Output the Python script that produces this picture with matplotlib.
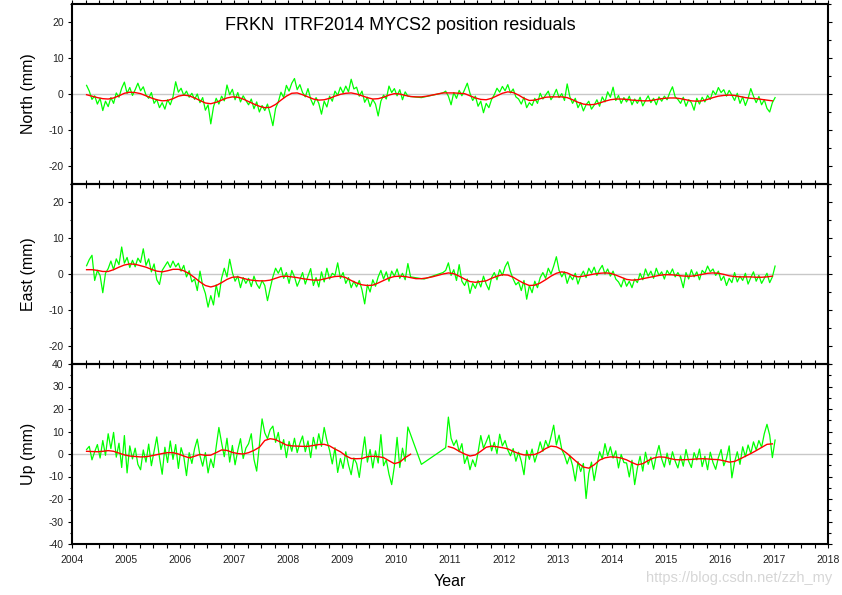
import numpy as np
import matplotlib
matplotlib.use("Agg")
import matplotlib.pyplot as plt
from matplotlib.ticker import MultipleLocator

plt.rcParams['font.family'] = ['Liberation Sans', 'DejaVu Sans']
plt.rcParams['axes.unicode_minus'] = False

# ---------------- data ----------------
title = "FRKN  ITRF2014 MYCS2 position residuals"
panel_labels = ["North (mm)", "East (mm)", "Up (mm)"]
x_label = "Year"
watermark = "https://blog.csdn.net/zzh_my"
year_ticks = list(range(2004, 2019))

# sampling of the series (decimal year)
green_t0 = 2004.27
green_step = 0.05
red_t0 = 2004.27
red_step = 0.10

north_green = [
    2.4, 0.8, -1.5, -0.5, -2.8, -1.2, -4.6, -2.0, -3.5, -1.0, -2.6, 0.3, -0.9, 1.6, 3.3, 0.2, 1.8, -0.4, 1.2, 3.0,
    0.9, 2.0, -0.3, -1.2, 0.4, -2.6, -1.5, -3.8, -2.4, -4.2, -1.6, -3.0, -0.8, 3.4, 0.5, 1.6, -0.4, 0.8, -0.9, 0.2,
    -1.5, 0.0, -2.4, -1.0, -4.5, -3.0, -8.3, -3.6, -1.2, -2.8, -0.6, -1.9, 2.5, -0.2, 1.3, -1.6, 0.4, -2.2, -0.5, -1.8,
    -3.0, -1.4, -4.1, -2.2, -5.0, -3.2, -4.6, -2.8, -5.6, -8.8, -4.0, -2.2, 0.5, -1.0, 2.4, 0.8, 3.0, 4.3, 1.2, 2.6,
    0.4, -0.8, 1.5, -1.4, -3.1, -1.0, -2.6, -5.6, -2.0, -3.6, -0.6, -2.0, 0.8, -0.4, 1.9, 0.3, 2.2, 0.6, 4.1, 1.4,
    1.9, -0.6, 0.8, -2.3, -0.9, -3.5, -1.5, -2.8, -6.1, -2.0, -0.3, -1.4, 2.2, 0.4, 1.5, -0.5, 1.2, -1.6, 0.6, -0.6,
    -0.7, None, None, None, -1.0, None, None, None, None, None, None, None, 0.3, 0.8, -0.6, -3.0, 0.4, -1.2, 1.0, -0.5,
    1.2, 3.0, 0.2, -1.8, -0.6, -3.4, -2.0, -5.2, -2.6, -3.8, -1.5, -0.2, 1.6, 0.5, 2.1, 0.9, 2.6, 0.3, 1.4, -0.8,
    -1.4, -2.8, -0.9, -3.8, -2.4, -3.2, -1.2, -2.6, 0.2, -1.4, -0.3, 0.8, -1.6, -0.4, 1.3, -1.0, 0.1, -1.8, 2.8, -0.8,
    -2.6, -1.2, -3.8, -2.4, -4.7, -3.0, -2.0, -4.2, -3.1, -1.6, -3.4, -0.8, -2.2, 0.6, -0.9, 1.9, -1.8, -0.4, -2.6, -1.0,
    -2.2, -0.6, -3.0, -1.4, -2.6, -0.9, -3.3, -1.8, -0.5, -2.4, -1.2, -3.0, -0.8, -2.0, -0.6, -1.6, 0.4, 2.0, -0.8, -1.5,
    -2.6, -0.9, -3.4, -1.6, -2.4, -4.5, -1.2, -2.8, -0.9, -2.2, -0.4, -1.5, 0.9, -0.2, 1.8, 0.4, 1.2, -0.6, 1.0, -0.3,
    -1.8, 0.2, -2.6, -0.8, -3.2, -1.2, 1.5, -0.6, -2.4, -0.7, -3.0, -1.6, -4.0, -5.0, -2.4, -1.0,
]

north_red = [
    -0.2, -0.6, -1.0, -1.3, -1.4, -1.1, -0.5, 0.2, 0.5, 0.4,
    0.1, -0.5, -1.1, -1.6, -1.9, -1.8, -1.3, -0.6, -0.3, -0.5,
    -1.1, -1.8, -2.5, -2.7, -2.3, -1.7, -1.1, -0.8, -0.9, -1.4,
    -2.1, -2.8, -3.4, -3.8, -3.7, -2.9, -1.7, -0.6, 0.2, 0.3,
    -0.2, -0.8, -1.4, -1.7, -1.6, -1.2, -0.6, -0.1, 0.2, 0.3,
    0.0, -0.5, -1.0, -1.4, -1.3, -0.9, -0.3, 0.1, 0.0, -0.4,
    -0.7, -0.8, -0.8, -0.6, -0.3, 0.0, 0.3, 0.3, 0.3, 0.2,
    0.1, -0.5, -1.1, -1.5, -1.6, -1.2, -0.5, 0.2, 0.6, 0.4,
    -0.3, -1.2, -1.8, -1.7, -1.3, -0.9, -0.8, -0.8, -0.8, -1.0,
    -1.6, -2.3, -2.8, -3.0, -2.9, -2.5, -2.0, -1.6, -1.4, -1.4,
    -1.5, -1.7, -1.8, -1.9, -1.9, -1.7, -1.4, -1.2, -1.1, -1.1,
    -1.3, -1.6, -1.9, -2.0, -1.9, -1.5, -1.0, -0.6, -0.4, -0.3,
    -0.4, -0.7, -1.0, -1.2, -1.3, -1.5, -1.7, -1.9,
]

east_green = [
    2.3, 4.0, 5.2, -1.8, 1.0, -0.4, -5.2, 0.2, 1.5, 3.6, 1.2, 4.2, 2.6, 7.5, 3.0, 4.6, 1.8, 3.8, 2.0, 4.4,
    3.2, 7.0, 2.4, 4.2, 0.6, 2.8, -1.6, -2.9, 1.0, 2.2, 3.4, 1.8, 3.6, 2.0, 3.0, 0.8, 2.4, -0.8, 0.9, -2.2,
    -1.4, -4.6, 0.8, -3.2, -5.4, -9.2, -6.0, -8.6, -3.0, -6.4, -1.2, 1.6, -0.8, 4.1, 0.4, -2.0, -0.6, -3.8, -1.0, -2.6,
    -1.2, -3.5, -0.6, -2.8, -4.0, -1.8, -3.2, -7.4, -4.0, -0.8, 1.6, 0.2, 1.8, -1.2, 0.4, -2.6, 1.0, -0.8, -3.4, -1.6,
    0.4, -2.8, -0.6, 1.5, -3.2, -1.0, -3.6, 0.6, -2.2, 1.6, -1.4, 0.2, -0.4, 3.1, -1.2, 0.4, -2.6, -1.0, -3.8, -2.0,
    -3.6, -1.8, -4.4, -8.3, -3.0, -5.0, -1.6, -3.4, -0.8, 1.0, -1.4, 0.6, -2.0, 0.8, -0.6, 1.4, -1.2, 0.2, -1.6, 2.9,
    -0.8, None, None, None, None, -1.4, None, None, None, None, None, None, 0.4, 1.0, 3.1, -0.4, 1.2, -1.8, 2.6, -2.0,
    -3.2, -1.4, -5.4, -2.6, -4.0, -1.8, -3.6, -0.6, -2.8, -4.4, -1.0, 0.4, -1.6, 1.2, -0.4, 2.0, 3.4, 0.6, -1.4, -3.0,
    -2.2, -4.6, -1.8, -7.0, -3.2, -5.2, -2.0, -3.8, -1.0, 0.4, -1.2, 1.6, 0.0, 2.2, 4.8, 1.0, -0.8, 0.6, -2.6, -0.4,
    -1.6, 0.2, -2.8, -0.6, 0.8, -1.0, 1.6, 0.2, 1.9, -0.4, 1.2, 2.4, 0.0, 1.4, -0.6, 0.8, -1.4, -2.2, -3.6, -1.2,
    -3.4, -2.0, -3.8, -1.4, -2.4, 0.2, -1.6, 1.4, -0.6, 0.8, -1.2, 1.6, -0.4, 0.6, -1.4, 1.0, -0.2, 1.4, -0.8, 0.4,
    -1.0, -3.8, 0.4, -1.4, 1.2, -0.8, 0.6, -1.6, 1.0, 0.2, 2.2, 0.6, 1.4, -0.4, 0.8, -1.8, -0.6, -3.2, -1.2, -2.4,
    0.4, -2.2, -0.6, -1.8, 0.2, -2.8, -1.0, 0.6, -2.0, -0.4, -2.6, -1.2, 0.2, -2.4, -0.8, 2.2,
]

east_red = [
    1.2, 1.2, 1.0, 0.7, 0.7, 1.2, 1.9, 2.5, 2.8, 2.7,
    2.3, 1.9, 1.3, 0.8, 0.6, 0.9, 1.3, 1.3, 0.9, 0.1,
    -1.0, -2.2, -3.2, -3.6, -3.2, -2.4, -1.5, -0.9, -0.8, -1.2,
    -1.6, -1.8, -1.9, -1.9, -1.7, -1.2, -0.7, -0.6, -0.8, -1.0,
    -1.3, -1.5, -1.7, -1.7, -1.4, -1.0, -0.7, -0.6, -1.0, -1.8,
    -2.5, -3.0, -3.2, -3.1, -2.5, -1.8, -1.1, -0.7, -0.6, -0.7,
    -1.0, -1.3, -1.3, -1.1, -0.8, -0.4, 0.0, 0.3, 0.1, -0.6,
    -1.4, -2.1, -2.3, -2.1, -1.9, -1.2, -0.6, -0.2, -0.3, -0.9,
    -1.8, -2.6, -3.2, -3.1, -2.5, -1.6, -0.6, 0.2, 0.6, 0.3,
    -0.4, -0.8, -0.6, -0.3, 0.0, 0.2, 0.3, 0.2, -0.3, -0.9,
    -1.5, -1.7, -1.6, -1.3, -1.0, -0.7, -0.4, -0.2, -0.2, -0.3,
    -0.5, -0.6, -0.6, -0.4, -0.1, 0.2, 0.3, 0.2, -0.1, -0.5,
    -0.7, -0.8, -0.8, -0.8, -0.9, -0.9, -0.8, -0.6,
]

up_green = [
    2.0, 3.4, -2.6, 1.0, 4.2, -1.8, 6.0, -0.6, 9.0, 2.4, 9.6, -1.4, 4.8, -6.0, 8.2, -8.4, 3.6, -2.2, 2.6, -4.6,
    -7.0, 1.8, -3.6, 4.4, -5.2, 1.2, 7.6, -1.6, -9.0, 3.0, -3.8, 5.8, -2.4, 4.2, -6.4, 2.8, -1.2, -9.6, 0.6, -4.2,
    2.4, 6.6, -0.8, -5.4, 0.6, -8.4, -2.2, -6.0, 3.2, 11.8, 5.0, -1.2, 7.0, -3.6, 3.8, -4.8, 1.6, 6.8, -2.0, 2.6,
    4.6, 9.0, -2.4, -7.6, 3.8, 15.6, 9.4, 6.8, 10.8, 12.4, 5.2, 9.6, 2.0, 6.4, -1.6, 5.6, 1.2, 7.0, 0.6, 4.8,
    8.0, 1.0, 5.8, -1.6, 7.4, 2.2, 9.0, 3.4, 11.8, 6.0, 1.6, -4.4, 2.8, -8.2, -2.0, -6.4, 1.0, -4.8, -9.2, -1.8,
    -4.2, -10.4, -1.0, 7.6, -3.6, 2.0, -6.2, 1.4, -4.0, 8.6, -5.2, -2.6, -9.0, -13.6, -5.4, 7.4, -6.0, 2.6, -3.2, 12.0,
    None, None, None, None, -4.6, None, None, None, None, None, None, None, None, 2.8, 16.4, 7.0, 3.8, 6.2, 1.0, 4.6,
    -4.2, -1.0, -7.0, -2.6, -5.6, 0.8, 8.2, 2.6, 5.4, 8.4, 1.4, 5.2, 0.2, 8.8, 3.6, 6.0, 1.8, -0.8, 2.4, -3.2,
    0.8, -3.2, -9.2, 1.6, -2.4, 2.2, -3.6, 0.4, 5.4, 1.2, 6.0, 3.0, 7.6, 12.8, 4.0, 8.4, 2.0, -0.6, -4.4, -0.8,
    -5.2, -12.0, -3.4, -7.8, -4.2, -19.8, -8.6, -3.6, -11.8, -5.0, 1.0, -2.2, 4.6, -0.8, 3.2, -1.8, 1.4, -6.2, -0.2, -3.8,
    -4.0, -10.2, -2.8, -13.6, -6.2, -1.0, -7.6, 0.8, -4.6, -1.4, -6.8, -0.6, 3.8, -2.2, -5.8, 0.4, -4.8, 1.0, -3.2, -6.2,
    -0.8, -5.4, 2.0, -3.2, -6.0, 0.6, -2.6, 2.2, -5.6, -1.0, -7.0, 0.8, -3.8, -6.8, -1.6, 2.0, -5.2, -2.0, 3.6, -10.6,
    -3.6, 1.0, -4.6, 3.2, -1.2, 4.0, 0.2, 5.4, 1.8, 6.0, 3.0, 9.0, 13.2, 8.4, -1.6, 6.2,
]

up_red = [
    1.2, 1.1, 1.0, 1.2, 1.5, 1.2, 0.4, -0.4, -0.9, -1.1,
    -1.3, -1.2, -0.8, -0.3, 0.2, 0.6, 0.6, 0.0, -0.9, -1.7,
    -1.0, -0.2, -0.6, -0.5, 0.6, 1.8, 1.6, 0.7, 0.2, 0.0,
    0.6, 1.6, 3.0, 6.0, 6.8, 6.4, 5.2, 4.0, 3.6, 3.5,
    3.4, 3.4, 3.8, 4.2, 4.3, 3.6, 2.2, 1.0, -0.8, -2.0,
    -2.1, -2.0, -1.2, -1.0, -1.2, -1.6, -3.0, -4.3, -3.6, -1.6,
    -0.1, None, None, None, None, None, None, 3.3, 2.6, 1.2,
    0.0, -0.9, -0.4, 1.2, 3.0, 3.5, 3.2, 2.8, 2.3, 1.2,
    0.2, -0.4, -0.4, -0.2, 0.8, 2.4, 3.5, 3.2, 2.0, 0.2,
    -1.9, -4.0, -5.8, -6.3, -4.8, -2.7, -1.7, -1.3, -1.4, -1.8,
    -2.6, -3.8, -4.8, -4.3, -2.9, -1.8, -1.3, -1.4, -2.0, -2.5,
    -2.6, -2.5, -2.4, -2.2, -2.1, -2.2, -2.4, -2.5, -3.0, -3.6,
    -3.3, -2.2, -1.0, 0.2, 1.5, 2.9, 4.3, 4.5,
]

panels = [
    (north_green, north_red, (-25, 25)),
    (east_green, east_red, (-25, 25)),
    (up_green, up_red, (-40, 40)),
]

# ---------------- figure ----------------
W, H = 842, 595
fig = plt.figure(figsize=(W / 100, H / 100), dpi=100)
left_px, right_px = 72, 828
tops_px = [4, 184, 364]
panel_h_px = 180

for k, (g_vals, r_vals, ylim) in enumerate(panels):
    top = tops_px[k]
    ax = fig.add_axes([left_px / W, 1 - (top + panel_h_px) / H,
                       (right_px - left_px) / W, panel_h_px / H])
    ax.set_facecolor('none')

    g = np.array([np.nan if v is None else v for v in g_vals], dtype=float)
    tg = green_t0 + green_step * np.arange(len(g))
    keep = ~np.isnan(g)
    r = np.array([np.nan if v is None else v for v in r_vals], dtype=float)
    tr = red_t0 + red_step * np.arange(len(r))

    ax.axhline(0, color='#c8c8c8', lw=1.0, zorder=1)
    ax.plot(tg[keep], g[keep], color='#00ff00', lw=0.9, zorder=2)
    ax.plot(tr, r, color='#ff0000', lw=1.0, zorder=3)

    ax.set_xlim(year_ticks[0], year_ticks[-1])
    ax.set_ylim(*ylim)
    ax.xaxis.set_major_locator(MultipleLocator(1))
    ax.xaxis.set_minor_locator(MultipleLocator(0.25))
    if ylim[1] == 25:
        ax.set_yticks([-20, -10, 0, 10, 20])
    else:
        ax.set_yticks(list(range(-40, 41, 10)))
    ax.yaxis.set_minor_locator(MultipleLocator(5))
    ax.tick_params(axis='both', which='both', direction='out', top=True, right=True,
                   width=0.8, colors='black', labelcolor='#222222', labelsize=7.5)
    ax.tick_params(axis='x', which='both', length=3)
    ax.tick_params(axis='y', which='major', length=3, pad=3)
    ax.tick_params(axis='y', which='minor', length=1.8)
    ax.tick_params(axis='x', which='major', pad=5)
    for s in ax.spines.values():
        s.set_linewidth(1.5)
        s.set_color('black')
    if k < 2:
        ax.tick_params(axis='x', labelbottom=False)
    else:
        ax.set_xticks(year_ticks)
        ax.set_xticklabels([str(y) for y in year_ticks])

    fig.text(28 / W, 1 - (top + panel_h_px / 2) / H, panel_labels[k], rotation=90,
             ha='center', va='center', fontsize=11.5, color='black')

fig.text(225 / W, 1 - 25 / H, title, ha='left', va='center', fontsize=13, color='black')
fig.text(450 / W, 1 - 581 / H, x_label, ha='center', va='center', fontsize=11.5, color='black')
fig.text(832 / W, 1 - 578 / H, watermark, ha='right', va='center', fontsize=10.5, color='#d6d6d6')

fig.savefig('out.png', dpi=100)
